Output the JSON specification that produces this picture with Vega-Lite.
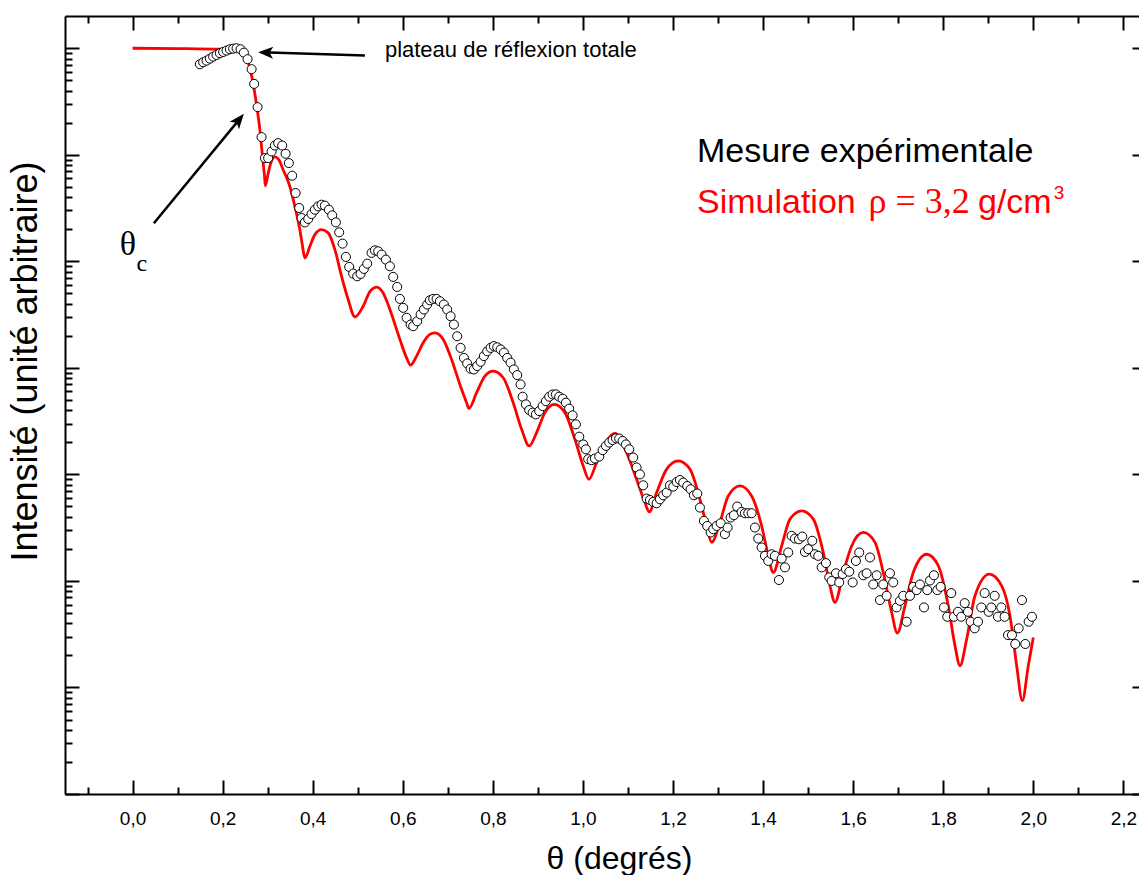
{
  "$schema": "https://vega.github.io/schema/vega-lite/v6.json",
  "width": 1074,
  "height": 778,
  "autosize": {"type": "none"},
  "padding": {"left": 65, "top": 16, "right": 0, "bottom": 81},
  "background": "white",
  "config": {
    "view": {"stroke": null},
    "axis": {"grid": false, "domainColor": "black", "domainWidth": 2, "tickColor": "black", "tickWidth": 2, "labelFont": "Liberation Sans", "titleFont": "Liberation Sans", "titleFontWeight": "normal", "labelColor": "black", "titleColor": "black"}
  },
  "datasets": {
    "simulation": [
      {"theta":0,"intensite":1},{"theta":0.105,"intensite":0.994},{"theta":0.1939,"intensite":0.979},{"theta":0.2272,"intensite":0.954},{"theta":0.2427,"intensite":0.904},{"theta":0.2538,"intensite":0.794},{"theta":0.2627,"intensite":0.6},{"theta":0.2694,"intensite":0.425},{"theta":0.276,"intensite":0.282},{"theta":0.2827,"intensite":0.1715},{"theta":0.2882,"intensite":0.1},{"theta":0.2927,"intensite":0.065},{"theta":0.2949,"intensite":0.0512},{"theta":0.3005,"intensite":0.065},{"theta":0.3071,"intensite":0.0841},{"theta":0.316,"intensite":0.0958},{"theta":0.3249,"intensite":0.0898},{"theta":0.3344,"intensite":0.0723},{"theta":0.3493,"intensite":0.0504},{"theta":0.3604,"intensite":0.0328},{"theta":0.3715,"intensite":0.0198},{"theta":0.3775,"intensite":0.0138},{"theta":0.3826,"intensite":0.01076},{"theta":0.3937,"intensite":0.0138},{"theta":0.4048,"intensite":0.0178},{"theta":0.4197,"intensite":0.0198},{"theta":0.4344,"intensite":0.0185},{"theta":0.4493,"intensite":0.0129},{"theta":0.4641,"intensite":0.00723},{"theta":0.4788,"intensite":0.00438},{"theta":0.4937,"intensite":0.00301},{"theta":0.5121,"intensite":0.00379},{"theta":0.527,"intensite":0.0052},{"theta":0.5425,"intensite":0.00573},{"theta":0.5558,"intensite":0.00509},{"theta":0.5714,"intensite":0.00353},{"theta":0.5936,"intensite":0.00185},{"theta":0.6085,"intensite":0.00124},{"theta":0.6174,"intensite":0.00106},{"theta":0.6307,"intensite":0.00129},{"theta":0.6453,"intensite":0.00172},{"theta":0.6602,"intensite":0.00206},{"theta":0.6713,"intensite":0.00213},{"theta":0.6898,"intensite":0.00185},{"theta":0.7084,"intensite":0.0012},{"theta":0.7268,"intensite":0.000699},{"theta":0.7417,"intensite":0.000471},{"theta":0.7468,"intensite":0.000416},{"theta":0.7639,"intensite":0.000584},{"theta":0.7824,"intensite":0.000836},{"theta":0.8008,"intensite":0.000931},{"theta":0.823,"intensite":0.000808},{"theta":0.8452,"intensite":0.000471},{"theta":0.8639,"intensite":0.000265},{"theta":0.8807,"intensite":0.000185},{"theta":0.8972,"intensite":0.000247},{"theta":0.9156,"intensite":0.00038},{"theta":0.9363,"intensite":0.000454},{"theta":0.96,"intensite":0.00038},{"theta":0.9822,"intensite":0.000213},{"theta":1.0007,"intensite":0.00012},{"theta":1.0133,"intensite":9.0e-5},{"theta":1.0304,"intensite":0.000129},{"theta":1.0526,"intensite":0.000206},{"theta":1.071,"intensite":0.000243},{"theta":1.097,"intensite":0.00016},{"theta":1.1192,"intensite":9.0e-5},{"theta":1.1377,"intensite":5.44e-5},{"theta":1.1472,"intensite":4.44e-5},{"theta":1.1637,"intensite":6.75e-5},{"theta":1.1859,"intensite":0.000112},{"theta":1.2116,"intensite":0.000134},{"theta":1.2376,"intensite":0.000112},{"theta":1.2598,"intensite":5.84e-5},{"theta":1.2747,"intensite":3.29e-5},{"theta":1.2858,"intensite":2.3e-5},{"theta":1.3042,"intensite":3.54e-5},{"theta":1.3227,"intensite":6.28e-5},{"theta":1.3487,"intensite":7.79e-5},{"theta":1.3746,"intensite":6.28e-5},{"theta":1.3968,"intensite":3.29e-5},{"theta":1.4115,"intensite":1.72e-5},{"theta":1.4226,"intensite":1.2e-5},{"theta":1.4413,"intensite":2.13e-5},{"theta":1.4597,"intensite":3.8e-5},{"theta":1.4857,"intensite":4.54e-5},{"theta":1.5115,"intensite":3.8e-5},{"theta":1.5336,"intensite":1.85e-5},{"theta":1.5485,"intensite":9.0e-6},{"theta":1.5596,"intensite":6.29e-6},{"theta":1.5781,"intensite":1.2e-5},{"theta":1.5967,"intensite":2.13e-5},{"theta":1.6225,"intensite":2.85e-5},{"theta":1.6485,"intensite":2.3e-5},{"theta":1.6669,"intensite":1.2e-5},{"theta":1.6855,"intensite":5.07e-6},{"theta":1.698,"intensite":3.24e-6},{"theta":1.7151,"intensite":5.84e-6},{"theta":1.7335,"intensite":1.2e-5},{"theta":1.7633,"intensite":1.78e-5},{"theta":1.789,"intensite":1.39e-5},{"theta":1.8112,"intensite":5.84e-6},{"theta":1.8261,"intensite":2.47e-6},{"theta":1.8372,"intensite":1.6e-6},{"theta":1.8521,"intensite":2.85e-6},{"theta":1.8705,"intensite":7.25e-6},{"theta":1.9023,"intensite":1.16e-5},{"theta":1.9298,"intensite":9.0e-6},{"theta":1.9482,"intensite":4.71e-6},{"theta":1.9631,"intensite":1.6e-6},{"theta":1.9756,"intensite":7.52e-7},{"theta":1.9889,"intensite":1.6e-6},{"theta":2.0,"intensite":2.95e-6}
    ],
    "mesure": [
      {"theta":0.1495,"intensite":0.708},{"theta":0.1568,"intensite":0.739},{"theta":0.1643,"intensite":0.765},{"theta":0.1717,"intensite":0.799},{"theta":0.179,"intensite":0.834},{"theta":0.1865,"intensite":0.865},{"theta":0.1939,"intensite":0.898},{"theta":0.2012,"intensite":0.923},{"theta":0.2087,"intensite":0.95},{"theta":0.2161,"intensite":0.979},{"theta":0.2234,"intensite":0.991},{"theta":0.231,"intensite":1.0},{"theta":0.2398,"intensite":0.979},{"theta":0.2472,"intensite":0.909},{"theta":0.2554,"intensite":0.789},{"theta":0.2643,"intensite":0.636},{"theta":0.27,"intensite":0.463},{"theta":0.2776,"intensite":0.28},{"theta":0.2865,"intensite":0.1465},{"theta":0.2938,"intensite":0.0931},{"theta":0.3011,"intensite":0.0931},{"theta":0.3087,"intensite":0.1074},{"theta":0.316,"intensite":0.1222},{"theta":0.3233,"intensite":0.1287},{"theta":0.3322,"intensite":0.1222},{"theta":0.3398,"intensite":0.1022},{"theta":0.3471,"intensite":0.0836},{"theta":0.3544,"intensite":0.0636},{"theta":0.362,"intensite":0.0438},{"theta":0.37,"intensite":0.0317},{"theta":0.3753,"intensite":0.0255},{"theta":0.3826,"intensite":0.0232},{"theta":0.39,"intensite":0.025},{"theta":0.3975,"intensite":0.0278},{"theta":0.4048,"intensite":0.0305},{"theta":0.4122,"intensite":0.0328},{"theta":0.4197,"intensite":0.034},{"theta":0.427,"intensite":0.0333},{"theta":0.4359,"intensite":0.0305},{"theta":0.4433,"intensite":0.027},{"theta":0.4515,"intensite":0.0232},{"theta":0.4588,"intensite":0.0187},{"theta":0.4663,"intensite":0.01466},{"theta":0.4737,"intensite":0.011},{"theta":0.481,"intensite":0.00886},{"theta":0.4899,"intensite":0.00767},{"theta":0.4988,"intensite":0.00724},{"theta":0.5063,"intensite":0.00762},{"theta":0.5136,"intensite":0.00849},{"theta":0.521,"intensite":0.00951},{"theta":0.5307,"intensite":0.012},{"theta":0.5381,"intensite":0.01268},{"theta":0.5454,"intensite":0.01241},{"theta":0.553,"intensite":0.01156},{"theta":0.5625,"intensite":0.01037},{"theta":0.5714,"intensite":0.00898},{"theta":0.5787,"intensite":0.00714},{"theta":0.5876,"intensite":0.00575},{"theta":0.5936,"intensite":0.00444},{"theta":0.6009,"intensite":0.00366},{"theta":0.6085,"intensite":0.00295},{"theta":0.6174,"intensite":0.00255},{"theta":0.6231,"intensite":0.00246},{"theta":0.632,"intensite":0.00274},{"theta":0.6396,"intensite":0.00317},{"theta":0.6469,"intensite":0.00353},{"theta":0.6542,"intensite":0.00393},{"theta":0.6602,"intensite":0.00431},{"theta":0.6675,"intensite":0.00444},{"theta":0.6751,"intensite":0.00444},{"theta":0.6824,"intensite":0.00422},{"theta":0.6913,"intensite":0.00393},{"theta":0.6986,"intensite":0.00353},{"theta":0.7062,"intensite":0.00305},{"theta":0.7135,"intensite":0.00255},{"theta":0.7208,"intensite":0.00198},{"theta":0.7284,"intensite":0.00154},{"theta":0.7357,"intensite":0.00124},{"theta":0.743,"intensite":0.0011},{"theta":0.7506,"intensite":0.000981},{"theta":0.7579,"intensite":0.000966},{"theta":0.7652,"intensite":0.00104},{"theta":0.7728,"intensite":0.00114},{"theta":0.7801,"intensite":0.00129},{"theta":0.7875,"intensite":0.00143},{"theta":0.795,"intensite":0.00154},{"theta":0.8023,"intensite":0.0016},{"theta":0.8097,"intensite":0.00156},{"theta":0.8172,"intensite":0.00149},{"theta":0.8246,"intensite":0.00139},{"theta":0.8319,"intensite":0.00124},{"theta":0.8394,"intensite":0.00112},{"theta":0.8467,"intensite":0.000966},{"theta":0.8541,"intensite":0.000855},{"theta":0.8616,"intensite":0.000699},{"theta":0.8661,"intensite":0.000536},{"theta":0.8734,"intensite":0.000454},{"theta":0.8807,"intensite":0.000401},{"theta":0.8883,"intensite":0.00038},{"theta":0.8956,"intensite":0.000366},{"theta":0.9029,"intensite":0.000393},{"theta":0.9105,"intensite":0.000438},{"theta":0.9178,"intensite":0.000487},{"theta":0.9251,"intensite":0.000536},{"theta":0.9327,"intensite":0.000563},{"theta":0.94,"intensite":0.000563},{"theta":0.9473,"intensite":0.000536},{"theta":0.9549,"intensite":0.000513},{"theta":0.9622,"intensite":0.000471},{"theta":0.9695,"intensite":0.000414},{"theta":0.9771,"intensite":0.000358},{"theta":0.9844,"intensite":0.000295},{"theta":0.9918,"intensite":0.000226},{"theta":1.0007,"intensite":0.000191},{"theta":1.0066,"intensite":0.000172},{"theta":1.0117,"intensite":0.000139},{"theta":1.0193,"intensite":0.000136},{"theta":1.0266,"intensite":0.000141},{"theta":1.0362,"intensite":0.000147},{"theta":1.0437,"intensite":0.000169},{"theta":1.0511,"intensite":0.000185},{"theta":1.0584,"intensite":0.000199},{"theta":1.0659,"intensite":0.00021},{"theta":1.0733,"intensite":0.000218},{"theta":1.0806,"intensite":0.000217},{"theta":1.0881,"intensite":0.000206},{"theta":1.0955,"intensite":0.000191},{"theta":1.1028,"intensite":0.000172},{"theta":1.1117,"intensite":0.000144},{"theta":1.1192,"intensite":0.000116},{"theta":1.1266,"intensite":0.0001},{"theta":1.1339,"intensite":7.9e-5},{"theta":1.1414,"intensite":5.93e-5},{"theta":1.1488,"intensite":5.75e-5},{"theta":1.1561,"intensite":5.51e-5},{"theta":1.1637,"intensite":5.36e-5},{"theta":1.171,"intensite":5.84e-5},{"theta":1.1783,"intensite":6.37e-5},{"theta":1.1859,"intensite":6.75e-5},{"theta":1.1932,"intensite":7.9e-5},{"theta":1.2005,"intensite":7.68e-5},{"theta":1.2081,"intensite":8.48e-5},{"theta":1.2154,"intensite":8.86e-5},{"theta":1.2227,"intensite":8.38e-5},{"theta":1.2316,"intensite":7.78e-5},{"theta":1.2391,"intensite":7.25e-5},{"theta":1.2465,"intensite":6.37e-5},{"theta":1.2538,"intensite":6.61e-5},{"theta":1.2598,"intensite":4.88e-5},{"theta":1.2687,"intensite":3.66e-5},{"theta":1.276,"intensite":3.28e-5},{"theta":1.2836,"intensite":2.85e-5},{"theta":1.2893,"intensite":3.06e-5},{"theta":1.2969,"intensite":3.28e-5},{"theta":1.3058,"intensite":3.48e-5},{"theta":1.3153,"intensite":2.75e-5},{"theta":1.3213,"intensite":3.17e-5},{"theta":1.328,"intensite":3.94e-5},{"theta":1.3353,"intensite":4.14e-5},{"theta":1.3426,"intensite":4.99e-5},{"theta":1.3524,"intensite":4.44e-5},{"theta":1.3597,"intensite":4.32e-5},{"theta":1.3671,"intensite":4.32e-5},{"theta":1.3746,"intensite":4.32e-5},{"theta":1.3819,"intensite":3.17e-5},{"theta":1.3893,"intensite":2.5e-5},{"theta":1.3968,"intensite":2.06e-5},{"theta":1.4041,"intensite":1.72e-5},{"theta":1.4115,"intensite":1.54e-5},{"theta":1.419,"intensite":1.78e-5},{"theta":1.4263,"intensite":1.72e-5},{"theta":1.4352,"intensite":1.02e-5},{"theta":1.4413,"intensite":1.62e-5},{"theta":1.4486,"intensite":1.34e-5},{"theta":1.4559,"intensite":1.85e-5},{"theta":1.4634,"intensite":2.65e-5},{"theta":1.4708,"intensite":2.5e-5},{"theta":1.4796,"intensite":2.46e-5},{"theta":1.487,"intensite":2.61e-5},{"theta":1.493,"intensite":1.87e-5},{"theta":1.5003,"intensite":1.99e-5},{"theta":1.5092,"intensite":2.38e-5},{"theta":1.5152,"intensite":1.78e-5},{"theta":1.5225,"intensite":1.72e-5},{"theta":1.5301,"intensite":1.34e-5},{"theta":1.5396,"intensite":1.47e-5},{"theta":1.5469,"intensite":1.08e-5},{"theta":1.5523,"intensite":1.0e-5},{"theta":1.5618,"intensite":1.18e-5},{"theta":1.5691,"intensite":9.68e-6},{"theta":1.5767,"intensite":1.16e-5},{"theta":1.584,"intensite":1.29e-5},{"theta":1.5914,"intensite":1.22e-5},{"theta":1.5989,"intensite":9.68e-6},{"theta":1.6062,"intensite":1.54e-5},{"theta":1.6135,"intensite":1.85e-5},{"theta":1.6224,"intensite":1.13e-5},{"theta":1.63,"intensite":1.18e-5},{"theta":1.6373,"intensite":1.66e-5},{"theta":1.6446,"intensite":9.27e-6},{"theta":1.6522,"intensite":1.13e-5},{"theta":1.6595,"intensite":6.61e-6},{"theta":1.6668,"intensite":9.27e-6},{"theta":1.6744,"intensite":7.25e-6},{"theta":1.6817,"intensite":1.18e-5},{"theta":1.689,"intensite":9.68e-6},{"theta":1.6966,"intensite":5.64e-6},{"theta":1.7039,"intensite":6.51e-6},{"theta":1.7113,"intensite":7.25e-6},{"theta":1.7188,"intensite":4.14e-6},{"theta":1.7262,"intensite":7.25e-6},{"theta":1.7335,"intensite":8.8e-6},{"theta":1.741,"intensite":8.2e-6},{"theta":1.7484,"intensite":9.27e-6},{"theta":1.7572,"intensite":5.64e-6},{"theta":1.7646,"intensite":8.2e-6},{"theta":1.7706,"intensite":1.01e-5},{"theta":1.7794,"intensite":1.13e-5},{"theta":1.7868,"intensite":8.2e-6},{"theta":1.7943,"intensite":8.8e-6},{"theta":1.8016,"intensite":5.64e-6},{"theta":1.809,"intensite":4.61e-6},{"theta":1.8178,"intensite":7.69e-6},{"theta":1.8238,"intensite":4.61e-6},{"theta":1.8328,"intensite":5.13e-6},{"theta":1.8401,"intensite":4.61e-6},{"theta":1.8477,"intensite":6.19e-6},{"theta":1.8549,"intensite":5.13e-6},{"theta":1.8609,"intensite":4.14e-6},{"theta":1.8698,"intensite":3.59e-6},{"theta":1.8772,"intensite":4.14e-6},{"theta":1.8845,"intensite":5.64e-6},{"theta":1.892,"intensite":7.69e-6},{"theta":1.9009,"intensite":5.13e-6},{"theta":1.9067,"intensite":5.64e-6},{"theta":1.9142,"intensite":7.25e-6},{"theta":1.9215,"intensite":4.61e-6},{"theta":1.9289,"intensite":5.64e-6},{"theta":1.9364,"intensite":4.61e-6},{"theta":1.9438,"intensite":3.1e-6},{"theta":1.9526,"intensite":3.1e-6},{"theta":1.96,"intensite":2.56e-6},{"theta":1.9675,"intensite":3.59e-6},{"theta":1.9748,"intensite":6.61e-6},{"theta":1.9822,"intensite":2.56e-6},{"theta":1.9897,"intensite":4.14e-6},{"theta":1.997,"intensite":4.61e-6}
    ]
  },
  "resolve": {"scale": {"x": "shared", "y": "shared"}, "axis": {"x": "independent", "y": "independent"}},
  "layer": [
    {
      "data": {"name": "simulation"},
      "mark": {"type": "line", "color": "#ff0000", "strokeWidth": 2.8, "interpolate": "monotone"},
      "encoding": {
        "x": {"field": "theta", "type": "quantitative",
          "scale": {"domain": [-0.15, 2.2347], "nice": false, "zero": false},
          "axis": {"orient": "bottom", "values": [0,0.2,0.4,0.6,0.8,1,1.2,1.4,1.6,1.8,2,2.2], "ticks": false, "tickSize": 0, "domain": true, "labelFontSize": 19, "labelPadding": 15, "labelFlush": false, "labelOverlap": false, "labelExpr": "replace(format(datum.value, '.1f'), '.', ',')", "title": "θ (degrés)", "titleFontSize": 32, "titleX": 554, "titleY": 74, "titleBaseline": "alphabetic", "titleAlign": "center"}},
        "y": {"field": "intensite", "type": "quantitative",
          "scale": {"type": "log", "domain": [1e-7, 2.008], "nice": false},
          "axis": {"orient": "left", "values": [1e-7,1e-6,1e-5,1e-4,1e-3,0.01,0.1,1], "labels": false, "tickSize": -14, "domain": true, "title": "Intensité (unité arbitraire)", "titleFontSize": 36, "titleX": -29, "titleY": 345, "titleAngle": -90, "titleBaseline": "alphabetic", "titleAlign": "center"}}
      }
    },
    {
      "data": {"name": "mesure"},
      "mark": {"type": "point", "shape": "circle", "filled": true, "fill": "white", "stroke": "black", "strokeWidth": 1, "size": 82, "opacity": 1},
      "encoding": {
        "x": {"field": "theta", "type": "quantitative",
          "axis": {"orient": "top", "values": [0,0.2,0.4,0.6,0.8,1,1.2,1.4,1.6,1.8,2,2.2], "labels": false, "tickSize": -14, "domain": true, "title": null}},
        "y": {"field": "intensite", "type": "quantitative",
          "axis": {"orient": "right", "values": [1e-7,1e-6,1e-5,1e-4,1e-3,0.01,0.1,1], "labels": false, "tickSize": -7, "domain": false, "title": null}}
      }
    },
    {
      "data": {"values": [{}]},
      "mark": {"type": "text", "text": "Mesure expérimentale", "align": "left", "baseline": "alphabetic", "font": "Liberation Sans", "fontSize": 34, "color": "black"},
      "encoding": {
        "x": {"datum": 1.2532, "type": "quantitative",
          "axis": {"orient": "bottom", "values": [0,0.2,0.4,0.6,0.8,1,1.2,1.4,1.6,1.8,2,2.2], "labels": false, "tickSize": -14, "domain": false, "title": null}},
        "y": {"datum": 0.0847, "type": "quantitative",
          "axis": {"orient": "left", "values": [2e-7,3e-7,4e-7,5e-7,6e-7,7e-7,8e-7,9e-7,2e-6,3e-6,4e-6,5e-6,6e-6,7e-6,8e-6,9e-6,2e-5,3e-5,4e-5,5e-5,6e-5,7e-5,8e-5,9e-5,2e-4,3e-4,4e-4,5e-4,6e-4,7e-4,8e-4,9e-4,0.002,0.003,0.004,0.005,0.006,0.007,0.008,0.009,0.02,0.03,0.04,0.05,0.06,0.07,0.08,0.09,0.2,0.3,0.4,0.5,0.6,0.7,0.8,0.9], "labels": false, "tickSize": -7, "domain": false, "title": null}}
      }
    },
    {
      "data": {"values": [{}]},
      "mark": {"type": "text", "text": "Simulation", "align": "left", "baseline": "alphabetic", "font": "Liberation Sans", "fontSize": 34, "color": "#ff0000"},
      "encoding": {
        "x": {"datum": 1.2532, "type": "quantitative",
          "axis": {"orient": "bottom", "values": [-0.1,0.1,0.3,0.5,0.7,0.9,1.1,1.3,1.5,1.7,1.9,2.1], "labels": false, "tickSize": -7, "domain": false, "title": null}},
        "y": {"datum": 0.02842, "type": "quantitative", "axis": null}
      }
    },
    {
      "data": {"values": [{}]},
      "mark": {"type": "text", "text": "ρ = 3,2", "align": "left", "baseline": "alphabetic", "font": "Liberation Serif", "fontSize": 36, "color": "#ff0000"},
      "encoding": {
        "x": {"datum": 1.634, "type": "quantitative",
          "axis": {"orient": "top", "values": [-0.1,0.1,0.3,0.5,0.7,0.9,1.1,1.3,1.5,1.7,1.9,2.1], "labels": false, "tickSize": -7, "domain": false, "title": null}},
        "y": {"datum": 0.02842, "type": "quantitative", "axis": null}
      }
    },
    {
      "data": {"values": [{}]},
      "mark": {"type": "text", "text": "g/cm", "align": "left", "baseline": "alphabetic", "font": "Liberation Sans", "fontSize": 34, "color": "#ff0000"},
      "encoding": {
        "x": {"datum": 1.8772, "type": "quantitative", "axis": null},
        "y": {"datum": 0.02842, "type": "quantitative", "axis": null}
      }
    },
    {
      "data": {"values": [{}]},
      "mark": {"type": "text", "text": "3", "align": "left", "baseline": "alphabetic", "font": "Liberation Sans", "fontSize": 19, "color": "#ff0000"},
      "encoding": {
        "x": {"datum": 2.0455, "type": "quantitative", "axis": null},
        "y": {"datum": 0.0385, "type": "quantitative", "axis": null}
      }
    },
    {
      "data": {"values": [{}]},
      "mark": {"type": "text", "text": "plateau de réflexion totale", "align": "left", "baseline": "alphabetic", "font": "Liberation Sans", "fontSize": 22, "color": "black"},
      "encoding": {
        "x": {"datum": 0.5603, "type": "quantitative", "axis": null},
        "y": {"datum": 0.82, "type": "quantitative", "axis": null}
      }
    },
    {
      "data": {"values": [{}]},
      "mark": {"type": "text", "text": "θ", "align": "left", "baseline": "alphabetic", "font": "Liberation Serif", "fontSize": 34, "color": "black"},
      "encoding": {
        "x": {"datum": -0.0282, "type": "quantitative", "axis": null},
        "y": {"datum": 0.01156, "type": "quantitative", "axis": null}
      }
    },
    {
      "data": {"values": [{}]},
      "mark": {"type": "text", "text": "c", "align": "left", "baseline": "alphabetic", "font": "Liberation Serif", "fontSize": 24, "color": "black"},
      "encoding": {
        "x": {"datum": 0.0089, "type": "quantitative", "axis": null},
        "y": {"datum": 0.00806, "type": "quantitative", "axis": null}
      }
    },
    {
      "data": {"values": [{}]},
      "mark": {"type": "rule", "color": "black", "strokeWidth": 2.5},
      "encoding": {
        "x": {"datum": 0.5159, "type": "quantitative", "axis": null},
        "y": {"datum": 0.856, "type": "quantitative", "axis": null},
        "x2": {"datum": 0.3042},
        "y2": {"datum": 0.911}
      }
    },
    {
      "data": {"values": [{}]},
      "mark": {"type": "rule", "color": "black", "strokeWidth": 2.5},
      "encoding": {
        "x": {"datum": 0.0473, "type": "quantitative", "axis": null},
        "y": {"datum": 0.0228, "type": "quantitative", "axis": null},
        "x2": {"datum": 0.2312},
        "y2": {"datum": 0.2003}
      }
    },
    {
      "data": {"values": [{}]},
      "mark": {"type": "point", "shape": "M0,0 L-0.5,1.25 L0,0.95 L0.5,1.25 Z", "filled": true, "color": "black", "size": 576, "angle": 271.7, "opacity": 1},
      "encoding": {
        "x": {"datum": 0.2789, "type": "quantitative", "axis": null},
        "y": {"datum": 0.917, "type": "quantitative", "axis": null}
      }
    },
    {
      "data": {"values": [{}]},
      "mark": {"type": "point", "shape": "M0,0 L-0.5,1.25 L0,0.95 L0.5,1.25 Z", "filled": true, "color": "black", "size": 576, "angle": 39.4, "opacity": 1},
      "encoding": {
        "x": {"datum": 0.2472, "type": "quantitative", "axis": null},
        "y": {"datum": 0.2423, "type": "quantitative", "axis": null}
      }
    }
  ]
}
